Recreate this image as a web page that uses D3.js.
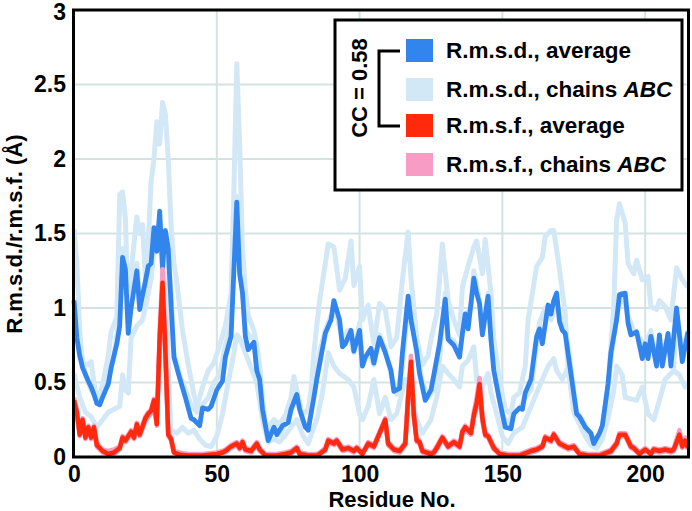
<!DOCTYPE html>
<html><head><meta charset="utf-8">
<script src="https://cdn.jsdelivr.net/npm/d3@7"></script>
<style>
body{margin:0;background:#fff;}
text{font-family:"Liberation Sans",Arial,sans-serif;font-weight:bold;fill:#000;}
</style></head>
<body>
<script>
// ---------------- data ----------------
const xTicks = [0, 50, 100, 150, 200];
const xTickLabels = ["0", "50", "100", "150", "200"];
const yTicks = [0, 0.5, 1, 1.5, 2, 2.5, 3];
const yTickLabels = ["0", "0.5", "1", "1.5", "2", "2.5", "3"];
const xTitle = "Residue No.";
const yTitle = "R.m.s.d./r.m.s.f. (Å)";
const ccLabel = "CC = 0.58";
const legendNames = [["R.m.s.d., average", ""], ["R.m.s.d., chains ", "ABC"], ["R.m.s.f., average", ""], ["R.m.s.f., chains ", "ABC"]];

const rmsdAvg = [[0,1.05],[1,0.80],[2,0.68],[3,0.60],[5,0.51],[6,0.47],[7,0.42],[8,0.36],[9,0.35],[10,0.40],[12,0.49],[13,0.60],[15,0.76],[16,0.88],[17,1.34],[18,1.26],[19,0.83],[20,1.00],[22,1.25],[23,0.99],[25,1.18],[26,1.28],[27,1.30],[28,1.54],[29,1.38],[30,1.65],[31,1.27],[32,1.52],[33,1.40],[34,1.02],[35,0.67],[37,0.53],[39,0.40],[41,0.26],[42,0.25],[44,0.21],[45,0.33],[47,0.32],[48,0.34],[50,0.45],[52,0.51],[53,0.67],[55,0.81],[57,1.71],[58,1.23],[59,1.10],[60,0.81],[61,0.72],[63,0.77],[64,0.58],[65,0.52],[66,0.32],[68,0.11],[70,0.20],[71,0.15],[73,0.21],[75,0.23],[76,0.32],[78,0.42],[79,0.32],[81,0.20],[82,0.18],[84,0.40],[85,0.52],[88,0.83],[90,0.92],[91,1.05],[93,0.92],[94,0.74],[95,0.76],[97,0.85],[98,0.71],[100,0.85],[101,0.61],[102,0.67],[104,0.73],[105,0.63],[107,0.80],[109,0.70],[111,0.58],[112,0.44],[114,0.46],[115,0.70],[117,1.08],[118,0.92],[120,0.71],[121,0.56],[123,0.38],[125,0.45],[126,0.55],[128,0.76],[130,1.06],[131,0.79],[133,0.75],[135,0.67],[136,0.83],[137,0.96],[138,0.86],[140,1.20],[141,1.10],[142,1.03],[143,0.82],[145,1.08],[146,0.79],[147,0.58],[149,0.38],[151,0.20],[153,0.19],[154,0.29],[156,0.33],[157,0.32],[158,0.43],[160,0.52],[162,0.81],[163,0.86],[164,0.76],[166,1.02],[167,0.96],[168,1.05],[169,1.10],[170,0.91],[171,0.85],[172,0.83],[174,0.56],[176,0.29],[177,0.27],[179,0.20],[181,0.16],[182,0.09],[184,0.16],[185,0.21],[187,0.49],[188,0.70],[190,0.92],[191,1.09],[193,1.10],[194,0.90],[195,0.82],[197,0.84],[199,0.66],[200,0.76],[201,0.66],[202,0.81],[204,0.61],[205,0.82],[206,0.61],[208,0.83],[209,0.61],[211,1.00],[213,0.64],[215,0.84]];

const rmsdChainA = [[0,1.53],[1,1.30],[2,0.85],[3,0.63],[5,0.62],[6,0.64],[7,0.50],[8,0.36],[10,0.48],[12,0.68],[13,0.84],[15,0.94],[16,1.76],[17,1.78],[18,1.60],[19,0.95],[20,1.25],[22,1.61],[23,1.50],[24,1.56],[25,1.20],[26,1.45],[27,1.85],[28,2.00],[29,2.25],[30,2.10],[31,2.38],[32,2.30],[33,2.00],[34,1.55],[35,1.30],[36,1.17],[38,0.85],[40,0.62],[42,0.42],[43,0.34],[44,0.40],[45,0.47],[47,0.58],[49,0.63],[51,0.75],[53,0.88],[55,1.10],[56,1.80],[57,2.64],[58,2.10],[59,1.40],[60,1.12],[61,0.95],[63,0.85],[64,0.75],[65,0.62],[66,0.40],[67,0.22],[68,0.20],[70,0.25],[72,0.22],[74,0.28],[76,0.40],[77,0.54],[78,0.45],[80,0.28],[82,0.32],[83,0.45],[84,0.70],[85,0.88],[86,1.05],[88,1.30],[89,1.43],[91,1.41],[93,1.12],[95,1.20],[97,1.45],[98,1.15],[100,1.28],[101,0.92],[103,1.02],[105,0.76],[107,1.03],[109,0.99],[111,0.74],[113,0.80],[115,1.19],[117,1.51],[118,1.20],[120,0.80],[122,0.62],[124,0.68],[125,0.79],[127,0.96],[129,1.43],[131,1.05],[133,0.92],[135,0.82],[136,1.14],[138,1.28],[140,1.41],[141,1.45],[143,1.23],[144,1.46],[146,1.10],[147,0.79],[149,0.52],[151,0.32],[153,0.29],[154,0.40],[156,0.43],[158,0.61],[159,0.92],[162,1.28],[164,1.34],[165,1.48],[167,1.52],[168,1.52],[170,1.26],[172,0.96],[173,0.60],[175,0.34],[177,0.25],[179,0.16],[181,0.11],[183,0.07],[185,0.20],[187,0.47],[189,1.01],[190,1.59],[191,1.70],[193,1.57],[194,1.30],[196,1.23],[197,1.32],[199,1.19],[201,1.21],[202,1.01],[204,0.99],[205,1.05],[207,1.01],[209,0.92],[211,1.27],[213,1.19],[215,1.14]];

const rmsdChainB = [[0,1.05],[2,0.75],[4,0.55],[6,0.45],[8,0.40],[10,0.42],[12,0.50],[14,0.68],[16,0.95],[17,1.40],[18,1.35],[19,0.95],[20,1.05],[22,1.30],[23,1.05],[25,1.15],[26,1.30],[27,1.35],[28,1.50],[29,1.45],[30,1.60],[31,1.25],[32,1.50],[33,1.35],[34,1.10],[35,0.70],[37,0.55],[39,0.45],[41,0.35],[43,0.30],[45,0.35],[47,0.40],[49,0.50],[51,0.55],[53,0.75],[55,0.90],[57,1.75],[58,1.30],[59,1.15],[60,0.85],[62,0.80],[63,0.80],[64,0.60],[66,0.35],[68,0.12],[70,0.22],[72,0.15],[74,0.22],[76,0.30],[78,0.42],[80,0.25],[82,0.18],[84,0.45],[86,0.70],[88,0.85],[90,0.95],[92,0.95],[94,0.78],[96,0.85],[98,0.70],[100,0.90],[101,0.62],[103,0.70],[105,0.62],[107,0.82],[109,0.72],[111,0.55],[113,0.42],[115,0.60],[117,1.02],[118,0.95],[120,0.72],[122,0.50],[124,0.40],[126,0.45],[128,0.65],[130,1.10],[131,0.80],[133,0.78],[135,0.70],[137,0.95],[139,1.00],[140,1.25],[142,1.05],[143,0.85],[145,1.10],[146,0.80],[148,0.50],[150,0.28],[152,0.22],[154,0.30],[156,0.32],[158,0.40],[160,0.45],[162,0.75],[163,0.90],[165,1.00],[167,0.92],[169,1.05],[170,0.95],[172,0.88],[174,0.60],[176,0.30],[178,0.25],[180,0.18],[182,0.12],[184,0.15],[186,0.25],[188,0.65],[190,0.95],[192,1.10],[194,0.95],[196,0.85],[198,0.80],[200,0.75],[202,0.85],[204,0.62],[206,0.70],[208,0.80],[210,0.60],[211,0.98],[213,0.70],[215,0.85]];

const rmsdChainC = [[0,0.56],[2,0.40],[4,0.30],[6,0.27],[8,0.20],[10,0.25],[12,0.30],[14,0.32],[16,0.34],[17,0.55],[18,0.45],[19,0.43],[20,0.80],[22,0.88],[24,0.92],[25,1.00],[27,1.20],[28,1.38],[29,1.45],[30,1.40],[31,1.50],[32,1.45],[33,0.60],[34,0.18],[36,0.16],[38,0.20],[40,0.16],[42,0.18],[44,0.12],[46,0.08],[48,0.07],[50,0.14],[52,0.29],[54,0.50],[56,0.70],[57,0.82],[58,0.80],[60,0.70],[62,0.60],[64,0.50],[66,0.25],[68,0.10],[70,0.12],[72,0.10],[74,0.15],[76,0.20],[78,0.25],[80,0.15],[82,0.09],[84,0.20],[85,0.25],[87,0.43],[89,0.70],[91,0.61],[93,0.56],[96,0.52],[98,0.47],[100,0.29],[101,0.25],[103,0.34],[105,0.52],[107,0.29],[109,0.40],[111,0.25],[113,0.29],[116,0.52],[118,0.43],[120,0.25],[122,0.16],[125,0.25],[127,0.40],[129,0.61],[131,0.56],[133,0.52],[135,0.47],[136,0.61],[138,0.65],[140,0.74],[141,0.52],[143,0.47],[145,0.56],[146,0.43],[148,0.29],[150,0.14],[152,0.09],[154,0.16],[157,0.20],[159,0.29],[162,0.43],[164,0.52],[166,0.61],[168,0.66],[169,0.58],[171,0.52],[173,0.60],[175,0.30],[177,0.22],[179,0.14],[181,0.08],[183,0.06],[185,0.12],[187,0.26],[189,0.45],[190,0.61],[192,0.55],[193,0.40],[197,0.38],[199,0.47],[201,0.29],[203,0.25],[205,0.38],[207,0.52],[210,0.58],[212,0.55],[214,0.47],[215,0.50]];

const rmsfAvg = [[0,0.38],[1,0.30],[2,0.15],[3,0.25],[4,0.13],[5,0.20],[6,0.13],[7,0.20],[8,0.08],[9,0.06],[10,0.04],[12,0.02],[14,0.03],[16,0.06],[17,0.13],[18,0.11],[20,0.17],[21,0.13],[22,0.22],[23,0.15],[25,0.26],[26,0.29],[27,0.31],[28,0.38],[29,0.22],[30,0.80],[31,1.17],[32,0.71],[33,0.15],[34,0.12],[35,0.03],[37,0.015],[40,0.01],[45,0.01],[50,0.02],[52,0.03],[53,0.04],[55,0.07],[57,0.09],[58,0.06],[59,0.10],[60,0.05],[62,0.04],[64,0.09],[65,0.05],[67,0.01],[71,0.01],[74,0.02],[76,0.03],[78,0.06],[79,0.02],[82,0.01],[85,0.01],[86,0.02],[88,0.05],[89,0.11],[91,0.09],[92,0.11],[94,0.05],[96,0.06],[98,0.04],[99,0.06],[101,0.02],[103,0.09],[105,0.07],[107,0.16],[109,0.25],[110,0.09],[112,0.05],[114,0.04],[116,0.09],[117,0.40],[118,0.64],[119,0.28],[120,0.11],[121,0.10],[122,0.04],[125,0.02],[126,0.03],[127,0.06],[129,0.13],[131,0.07],[133,0.10],[135,0.07],[136,0.17],[137,0.20],[139,0.16],[140,0.28],[141,0.36],[142,0.49],[143,0.26],[144,0.15],[145,0.14],[147,0.06],[149,0.02],[152,0.01],[156,0.01],[160,0.04],[162,0.05],[164,0.07],[165,0.13],[167,0.11],[168,0.15],[170,0.09],[171,0.08],[173,0.06],[175,0.07],[177,0.02],[180,0.01],[184,0.01],[188,0.04],[190,0.09],[191,0.15],[193,0.15],[195,0.07],[196,0.06],[198,0.02],[200,0.05],[202,0.02],[203,0.05],[205,0.04],[207,0.05],[209,0.04],[210,0.05],[212,0.15],[213,0.07],[214,0.11],[215,0.06]];

const rmsfChainA = [[0,0.40],[1,0.32],[2,0.17],[3,0.26],[4,0.15],[5,0.21],[6,0.15],[7,0.21],[8,0.10],[9,0.07],[10,0.05],[12,0.04],[14,0.05],[16,0.07],[17,0.14],[18,0.12],[20,0.18],[21,0.14],[22,0.23],[23,0.16],[25,0.27],[26,0.30],[27,0.32],[28,0.39],[29,0.24],[30,0.85],[31,1.26],[32,0.76],[33,0.17],[34,0.13],[35,0.04],[37,0.03],[40,0.02],[45,0.02],[50,0.03],[52,0.04],[53,0.05],[55,0.08],[57,0.10],[58,0.07],[59,0.11],[60,0.06],[62,0.05],[64,0.10],[65,0.06],[67,0.02],[71,0.02],[74,0.03],[76,0.04],[78,0.07],[79,0.03],[82,0.02],[85,0.02],[86,0.03],[88,0.06],[89,0.12],[91,0.10],[92,0.12],[94,0.06],[96,0.07],[98,0.05],[99,0.07],[101,0.03],[103,0.10],[105,0.08],[107,0.17],[109,0.26],[110,0.10],[112,0.06],[114,0.05],[116,0.10],[117,0.44],[118,0.68],[119,0.31],[120,0.12],[121,0.11],[122,0.05],[125,0.03],[126,0.04],[127,0.07],[129,0.14],[131,0.08],[133,0.11],[135,0.08],[136,0.18],[137,0.21],[139,0.17],[140,0.30],[141,0.40],[142,0.53],[143,0.28],[144,0.16],[145,0.15],[147,0.07],[149,0.03],[152,0.02],[156,0.02],[160,0.05],[162,0.06],[164,0.08],[165,0.14],[167,0.12],[168,0.16],[170,0.10],[171,0.09],[173,0.07],[175,0.08],[177,0.03],[180,0.02],[184,0.02],[188,0.05],[190,0.10],[191,0.16],[193,0.16],[195,0.08],[196,0.07],[198,0.03],[200,0.06],[202,0.03],[203,0.06],[205,0.05],[207,0.06],[209,0.05],[210,0.06],[212,0.18],[213,0.08],[214,0.13],[215,0.08]];

const rmsfChainB = [[0,0.36],[1,0.28],[2,0.14],[3,0.23],[4,0.12],[5,0.18],[6,0.12],[7,0.18],[8,0.07],[9,0.05],[10,0.03],[12,0.02],[14,0.02],[16,0.05],[17,0.12],[18,0.10],[20,0.15],[21,0.12],[22,0.20],[23,0.14],[25,0.24],[26,0.27],[27,0.29],[28,0.35],[29,0.21],[30,0.74],[31,1.10],[32,0.66],[33,0.14],[34,0.11],[35,0.03],[37,0.01],[40,0.01],[45,0.01],[50,0.02],[52,0.03],[53,0.03],[55,0.06],[57,0.08],[58,0.05],[59,0.09],[60,0.04],[62,0.03],[64,0.08],[65,0.04],[67,0.01],[71,0.01],[74,0.02],[76,0.02],[78,0.05],[79,0.02],[82,0.01],[85,0.01],[86,0.02],[88,0.04],[89,0.10],[91,0.08],[92,0.10],[94,0.04],[96,0.05],[98,0.03],[99,0.05],[101,0.02],[103,0.08],[105,0.06],[107,0.15],[109,0.23],[110,0.08],[112,0.04],[114,0.03],[116,0.08],[117,0.37],[118,0.60],[119,0.26],[120,0.10],[121,0.09],[122,0.03],[125,0.02],[126,0.02],[127,0.05],[129,0.12],[131,0.06],[133,0.09],[135,0.06],[136,0.15],[137,0.18],[139,0.15],[140,0.26],[141,0.33],[142,0.45],[143,0.24],[144,0.14],[145,0.13],[147,0.05],[149,0.02],[152,0.01],[156,0.01],[160,0.03],[162,0.04],[164,0.06],[165,0.12],[167,0.10],[168,0.14],[170,0.08],[171,0.07],[173,0.05],[175,0.06],[177,0.02],[180,0.01],[184,0.01],[188,0.03],[190,0.08],[191,0.14],[193,0.14],[195,0.06],[196,0.05],[198,0.02],[200,0.04],[202,0.02],[203,0.04],[205,0.03],[207,0.04],[209,0.03],[210,0.04],[212,0.13],[213,0.06],[214,0.10],[215,0.05]];

const rmsfChainC = [[0,0.37],[1,0.30],[2,0.16],[3,0.24],[4,0.14],[5,0.19],[6,0.14],[7,0.19],[8,0.08],[9,0.06],[10,0.04],[12,0.03],[14,0.03],[16,0.06],[17,0.13],[18,0.11],[20,0.16],[21,0.13],[22,0.21],[23,0.15],[25,0.25],[26,0.28],[27,0.30],[28,0.37],[29,0.22],[30,0.78],[31,1.14],[32,0.70],[33,0.15],[34,0.12],[35,0.03],[37,0.02],[40,0.01],[45,0.01],[50,0.02],[52,0.03],[53,0.04],[55,0.07],[57,0.09],[58,0.06],[59,0.10],[60,0.05],[62,0.04],[64,0.09],[65,0.05],[67,0.01],[71,0.01],[74,0.02],[76,0.03],[78,0.06],[79,0.02],[82,0.01],[85,0.01],[86,0.02],[88,0.05],[89,0.11],[91,0.09],[92,0.11],[94,0.05],[96,0.06],[98,0.04],[99,0.06],[101,0.02],[103,0.09],[105,0.07],[107,0.16],[109,0.24],[110,0.09],[112,0.05],[114,0.04],[116,0.09],[117,0.39],[118,0.62],[119,0.28],[120,0.11],[121,0.10],[122,0.04],[125,0.02],[126,0.03],[127,0.06],[129,0.13],[131,0.07],[133,0.10],[135,0.07],[136,0.16],[137,0.19],[139,0.16],[140,0.27],[141,0.35],[142,0.48],[143,0.26],[144,0.15],[145,0.14],[147,0.06],[149,0.02],[152,0.01],[156,0.01],[160,0.04],[162,0.05],[164,0.07],[165,0.13],[167,0.11],[168,0.15],[170,0.09],[171,0.08],[173,0.06],[175,0.07],[177,0.02],[180,0.01],[184,0.01],[188,0.04],[190,0.09],[191,0.15],[193,0.15],[195,0.07],[196,0.06],[198,0.02],[200,0.05],[202,0.02],[203,0.05],[205,0.04],[207,0.05],[209,0.04],[210,0.05],[212,0.14],[213,0.07],[214,0.11],[215,0.06]];

// ---------------- drawing ----------------
const W = 692, H = 511;
const C = {blue:"#3385ee", light:"#d2e8f7", red:"#ff2a0c", pink:"#f79cc4", grid:"#d3e3e3"};
const x = d3.scaleLinear().domain([0, 215]).range([74, 688]);
const y = d3.scaleLinear().domain([0, 3]).range([457, 10]);

const svg = d3.select("body").append("svg").attr("width", W).attr("height", H);

// grid
svg.append("g").selectAll("line").data(yTicks.filter(v => v > 0 && v < 3)).join("line")
  .attr("x1", x(0)).attr("x2", x(215)).attr("y1", d => y(d)).attr("y2", d => y(d))
  .attr("stroke", C.grid).attr("stroke-width", 2);
svg.append("g").selectAll("line").data(xTicks.filter(v => v > 0)).join("line")
  .attr("y1", y(0)).attr("y2", y(3)).attr("x1", d => x(d)).attr("x2", d => x(d))
  .attr("stroke", C.grid).attr("stroke-width", 2);

const line = d3.line().x(d => x(d[0])).y(d => y(d[1]));
function drawLine(data, color, width) {
  svg.append("path").datum(data).attr("d", line).attr("fill", "none")
    .attr("stroke", color).attr("stroke-width", width)
    .attr("stroke-linejoin", "round").attr("stroke-linecap", "butt");
}
[rmsdChainA, rmsdChainB, rmsdChainC].forEach(s => drawLine(s, C.light, 5));
drawLine(rmsdAvg, C.blue, 4.8);
[rmsfChainA, rmsfChainB, rmsfChainC].forEach(s => drawLine(s, C.pink, 4.5));
drawLine(rmsfAvg, C.red, 4.5);

// frame
svg.append("rect").attr("x", x(0) - 0.5).attr("y", y(3)).attr("width", x(215) - x(0) + 1).attr("height", y(0) - y(3))
  .attr("fill", "none").attr("stroke", "#000").attr("stroke-width", 3);

// axes
const fs = 23;
const yAxis = d3.axisLeft(y).tickValues(yTicks).tickSize(0).tickPadding(7)
  .tickFormat((d, i) => yTickLabels[i]);
const gy = svg.append("g").attr("transform", `translate(${x(0) - 1},0)`).call(yAxis);
gy.select(".domain").remove();
gy.selectAll("text").attr("font-size", fs).attr("font-family", "Liberation Sans, Arial, sans-serif").attr("font-weight", "bold").attr("fill", "#000");
gy.selectAll(".tick").filter(d => d === 3).select("text").attr("dy", "0.42em");

const xAxis = d3.axisBottom(x).tickValues(xTicks).tickSize(0).tickPadding(9)
  .tickFormat((d, i) => xTickLabels[i]);
const gx = svg.append("g").attr("transform", `translate(0,${y(0)})`).call(xAxis);
gx.select(".domain").remove();
gx.selectAll("text").attr("font-size", fs).attr("font-family", "Liberation Sans, Arial, sans-serif").attr("font-weight", "bold").attr("fill", "#000");

svg.append("text").attr("x", 392).attr("y", 507).attr("text-anchor", "middle")
  .attr("font-size", 22).text(xTitle);
svg.append("text").attr("transform", "translate(22,234) rotate(-90)").attr("text-anchor", "middle")
  .attr("font-size", 22).text(yTitle);

// legend
const lg = svg.append("g");
lg.append("rect").attr("x", 335).attr("y", 20).attr("width", 347).attr("height", 170)
  .attr("fill", "#fff").attr("stroke", "#000").attr("stroke-width", 3);
const legendColors = [C.blue, C.light, C.red, C.pink];
const rowY = [39, 78, 114, 153];
legendNames.forEach((nm, i) => {
  lg.append("rect").attr("x", 406).attr("y", rowY[i]).attr("width", 27).attr("height", 23).attr("fill", legendColors[i]);
  const t = lg.append("text").attr("x", 446).attr("y", rowY[i] + 19).attr("font-size", 22.5);
  t.append("tspan").text(nm[0]);
  if (nm[1]) t.append("tspan").attr("font-style", "italic").text(nm[1]);
});
// bracket
lg.append("path").attr("d", `M400,${rowY[0] + 12} H379 V${rowY[2] + 12} H400`)
  .attr("fill", "none").attr("stroke", "#000").attr("stroke-width", 3);
lg.append("text").attr("transform", "translate(367,88) rotate(-90)").attr("text-anchor", "middle")
  .attr("font-size", 22).text(ccLabel);
</script>
</body></html>
